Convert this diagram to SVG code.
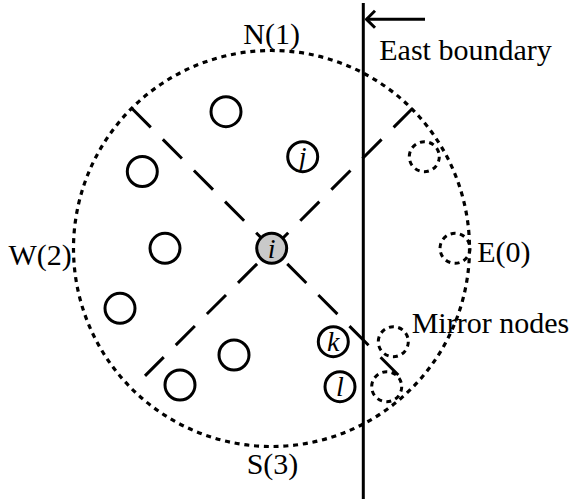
<svg xmlns="http://www.w3.org/2000/svg" width="571" height="501" viewBox="0 0 571 501">
  <style>
    text { font-family: "Liberation Serif", "DejaVu Serif", serif; fill: #000; }
    .lbl { font-size: 30px; }
    .nl { font-size: 28px; font-style: italic; text-anchor: middle; }
    .node { fill: #fff; stroke: #000; stroke-width: 3; }
    .mirror { fill: none; stroke: #000; stroke-width: 3; stroke-dasharray: 5 4.4; }
    .range { fill: none; stroke: #000; stroke-width: 3.2; stroke-dasharray: 5 4.8; }
    .sector { stroke: #000; stroke-width: 3; stroke-dasharray: 27 17; fill: none; }
    .solid { stroke: #000; stroke-width: 3; fill: none; }
  </style>
  <defs>
    <marker id="arr" viewBox="0 0 12 20" refX="1" refY="10" markerWidth="12" markerHeight="20" markerUnits="userSpaceOnUse" orient="auto">
      <path d="M10,1.5 L1.5,10 L10,18.5" fill="none" stroke="#000" stroke-width="3"/>
    </marker>
  </defs>
  <rect width="571" height="501" fill="#fff"/>

  <!-- communication range -->
  <circle id="range" class="range" cx="271.5" cy="248.5" r="198"/>

  <!-- sector dividers and boundary -->
  <g id="connectors">
    <line class="sector" x1="131.7" y1="108.3" x2="398.3" y2="375"/>
    <line class="sector" x1="412.7" y1="108.3" x2="145" y2="375.9"/>
    <line id="east-boundary" class="solid" x1="363.3" y1="3" x2="363.3" y2="499"/>
    <line id="boundary-arrow" class="solid" x1="366" y1="19.3" x2="425" y2="19.3" marker-start="url(#arr)"/>
  </g>

  <!-- ordinary nodes -->
  <g id="node-a"><circle class="node" cx="226" cy="111.7" r="15"/></g>
  <g id="node-b"><circle class="node" cx="142.3" cy="171.5" r="15"/></g>
  <g id="node-c"><circle class="node" cx="165" cy="248.3" r="15"/></g>
  <g id="node-d"><circle class="node" cx="120" cy="308.3" r="15"/></g>
  <g id="node-e"><circle class="node" cx="180" cy="385" r="15"/></g>
  <g id="node-f"><circle class="node" cx="234" cy="355" r="15"/></g>
  <g id="node-j"><circle class="node" cx="302.7" cy="156.7" r="15"/><text class="nl" font-family="Liberation Serif, serif" x="302.7" y="165.5">j</text></g>
  <g id="node-k"><circle class="node" cx="333.3" cy="341.7" r="15"/><text class="nl" font-family="Liberation Serif, serif" x="333.3" y="350.5">k</text></g>
  <g id="node-l"><circle class="node" cx="340" cy="386.7" r="15"/><text class="nl" font-family="Liberation Serif, serif" x="340" y="395.5">l</text></g>
  <g id="node-i"><circle class="node" style="fill:#c9c9c9" cx="271.7" cy="248.3" r="15"/><text class="nl" font-family="Liberation Serif, serif" x="271.7" y="257.5">i</text></g>

  <!-- mirror nodes -->
  <g id="mirror-j"><circle class="mirror" cx="424.3" cy="156.7" r="15"/></g>
  <g id="mirror-i"><circle class="mirror" cx="455" cy="248.3" r="15"/></g>
  <g id="mirror-k"><circle class="mirror" cx="393.3" cy="341.7" r="15"/></g>
  <g id="mirror-l"><circle class="mirror" cx="386.7" cy="386.7" r="15"/></g>

  <!-- labels -->
  <text class="lbl" x="243.3" y="43.5">N(1)</text>
  <text class="lbl" x="246.7" y="474">S(3)</text>
  <text class="lbl" x="8.5" y="265">W(2)</text>
  <text class="lbl" x="477.3" y="262">E(0)</text>
  <text class="lbl" x="379.3" y="60">East boundary</text>
  <text class="lbl" x="411.7" y="333.3">Mirror nodes</text>
</svg>
